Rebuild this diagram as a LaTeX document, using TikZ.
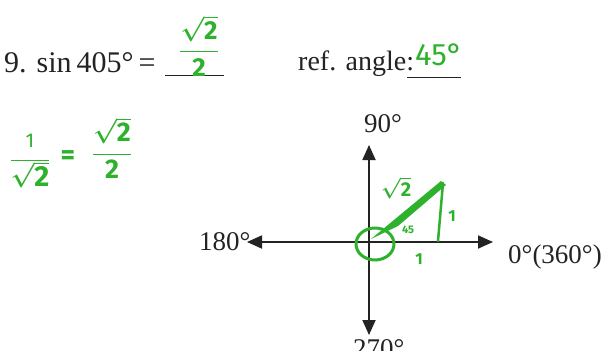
\documentclass[tikz,border=0pt]{standalone}
\usepackage{fontspec}
\setmainfont{Liberation Serif}
\newfontfamily\hand{Fira Sans}
\usetikzlibrary{arrows.meta}
\definecolor{pen}{RGB}{46,178,46}
\definecolor{ink}{RGB}{35,35,35}
\newcommand{\hd}[1]{\hbox{\hand\bfseries #1}}
\begin{document}
\begin{tikzpicture}[x=1pt,y=-1pt,
  axis/.style={draw=ink,line width=1.8pt,-{Triangle[length=15pt,width=13pt]}},
  lbl/.style={text=ink,inner sep=0pt,anchor=base west},
  hw/.style={text=pen,inner sep=0pt},
  penline/.style={draw=pen,line width=3pt,line cap=round,line join=round},
  blank/.style={draw=ink,line width=1pt}]
\useasboundingbox[fill=white] (0,0) rectangle (606,351);
% header
\node[lbl,font=\fontsize{30}{34}\selectfont] (q) at (4,72) {9. sin\,405°\,=};
\coordinate (u1a) at (165,75); \coordinate (u1b) at (224,75);
\draw[blank] (u1a) -- (u1b);
\node[hw,font=\boldmath\fontsize{26}{30}\selectfont] (ans) at (199,46) {$\displaystyle\frac{\sqrt{\hd{2}}}{\hd{2}}$};
\node[lbl,font=\fontsize{28}{32}\selectfont] (ref) at (298,70) {ref. angle:};
\coordinate (u2a) at (407,77); \coordinate (u2b) at (461,77);
\draw[blank] (u2a) -- (u2b);
\node[hw,anchor=base west,font=\hand\fontsize{31}{34}\selectfont] (ra) at (415,65) {45°};
% left note
\node[hw,font=\boldmath\fontsize{29}{32}\selectfont] (n1) at (30,161) {$\displaystyle\frac{\hbox{\hand\fontsize{20}{22}\selectfont 1}}{\sqrt{\hd{2}}}$};
\node[hw,font=\hand\bfseries\fontsize{28}{30}\selectfont] (neq) at (68,158) {=};
\node[hw,font=\boldmath\fontsize{27}{30}\selectfont] (n2) at (112,148) {$\displaystyle\frac{\sqrt{\hd{2}}}{\hd{2}}$};
% axes
\coordinate (O) at (369,242);
\coordinate (E) at (493,242);
\coordinate (W) at (247,242);
\coordinate (N) at (369,145);
\coordinate (S) at (369,335);
\draw[axis] (O) -- (E);
\draw[axis] (O) -- (W);
\draw[axis] (O) -- (N);
\draw[axis] (O) -- (S);
\node[lbl,font=\fontsize{27}{30}\selectfont] (l90) at (364,132) {90°};
\node[lbl,font=\fontsize{27}{30}\selectfont] (l180) at (199,250) {180°};
\node[lbl,font=\fontsize{27}{30}\selectfont] (l0) at (508,263) {0°(360°)};
\node[lbl,font=\fontsize{27}{30}\selectfont] (l270) at (353,357) {270°};
% handwritten triangle
\coordinate (A) at (443,183);
\coordinate (B) at (438,241);
\fill[pen] (371,239) -- (441,181) -- (446,185) -- (398,226) -- cycle;
\draw[penline,line width=2.5pt] (A) -- (B);
\draw[penline] (375,244) ellipse [x radius=19pt, y radius=16pt];
\node[hw,font=\boldmath\fontsize{20}{22}\selectfont] (hyp) at (396,188) {$\sqrt{\hd{2}}$};
\node[hw,font=\hand\bfseries\fontsize{16}{18}\selectfont] (s1) at (452,216) {1};
\node[hw,font=\hand\bfseries\fontsize{16}{18}\selectfont] (s2) at (419,259) {1};
\node[hw,font=\hand\bfseries\fontsize{11}{12}\selectfont] (ang) at (408,230) {45};
\end{tikzpicture}
\end{document}
